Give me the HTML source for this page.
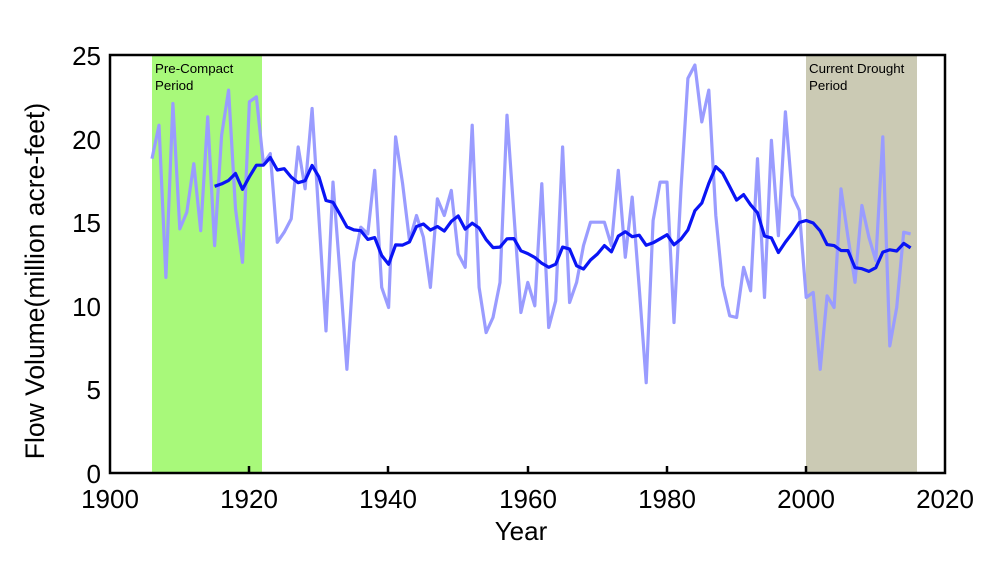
<!DOCTYPE html>
<html><head><meta charset="utf-8"><style>
html,body{margin:0;padding:0;background:#fff;}
svg{display:block;font-family:"Liberation Sans",Arial,sans-serif;}
</style></head><body>
<svg id="s" width="1000" height="568" viewBox="0 0 1000 568" xmlns="http://www.w3.org/2000/svg">
<rect x="152" y="56" width="110" height="416" fill="#a8f97a"/>
<rect x="806" y="56" width="111" height="416" fill="#cbcab4"/>
<text x="155" y="73" font-size="13.3">Pre-Compact</text>
<text x="155" y="90" font-size="13.3">Period</text>
<text x="809" y="73" font-size="13.3">Current Drought</text>
<text x="809" y="90" font-size="13.3">Period</text>
<polyline id="raw" fill="none" stroke="#9a9cff" stroke-width="3.2" stroke-linejoin="round"/>
<polyline id="avg" fill="none" stroke="#0a14f5" stroke-width="3.2" stroke-linejoin="round"/>
<rect x="110" y="55" width="835" height="418" fill="none" stroke="#000" stroke-width="2.5"/>
<g stroke="#000" stroke-width="2.5">
<line x1="249" y1="473" x2="249" y2="466"/><line x1="388" y1="473" x2="388" y2="466"/>
<line x1="528" y1="473" x2="528" y2="466"/><line x1="667" y1="473" x2="667" y2="466"/>
<line x1="806" y1="473" x2="806" y2="466"/>
</g>
<g font-size="26" text-anchor="end">
<text x="101" y="483">0</text><text x="101" y="399">5</text><text x="101" y="316">10</text>
<text x="101" y="232">15</text><text x="101" y="149">20</text><text x="101" y="65">25</text>
</g>
<g font-size="26" text-anchor="middle">
<text x="110" y="508">1900</text><text x="249" y="508">1920</text><text x="388" y="508">1940</text>
<text x="528" y="508">1960</text><text x="667" y="508">1980</text><text x="806" y="508">2000</text>
<text x="945" y="508">2020</text>
<text x="521" y="540">Year</text>
<text transform="translate(44,281) rotate(-90)" font-size="26.5">Flow Volume(million acre-feet)</text>
</g>
</svg>
<script>
var d=[18.8,20.8,11.7,22.1,14.6,15.6,18.5,14.5,21.3,13.6,20.2,22.9,15.8,12.6,22.2,22.5,18.5,19.1,13.8,14.4,15.2,19.5,17.0,21.8,15.2,8.5,17.4,12.0,6.2,12.6,14.7,14.3,18.1,11.1,9.9,20.1,17.3,13.9,15.4,14.1,11.1,16.4,15.4,16.9,13.1,12.3,20.8,11.1,8.4,9.3,11.4,21.4,15.5,9.6,11.4,10.0,17.3,8.7,10.3,19.5,10.2,11.4,13.6,15.0,15.0,15.0,13.6,18.1,12.9,16.5,11.1,5.4,15.1,17.4,17.4,9.0,17.0,23.6,24.4,21.0,22.9,15.4,11.2,9.4,9.3,12.3,10.9,18.8,10.5,19.9,14.2,21.6,16.6,15.7,10.5,10.8,6.2,10.6,9.9,17.0,14.1,11.4,16.0,14.1,12.7,20.1,7.6,9.9,14.4,14.3];
function X(i){return (152+6.96*i).toFixed(1);}function Y(v){return (473-16.72*v).toFixed(1);}
var r=[],a=[];
for(var i=0;i<d.length;i++){r.push(X(i)+","+Y(d[i]));
if(i>=9){var s=0;for(var j=i-9;j<=i;j++)s+=d[j];a.push(X(i)+","+Y(s/10));}}
document.getElementById("raw").setAttribute("points",r.join(" "));
document.getElementById("avg").setAttribute("points",a.join(" "));
</script>
</body></html>
